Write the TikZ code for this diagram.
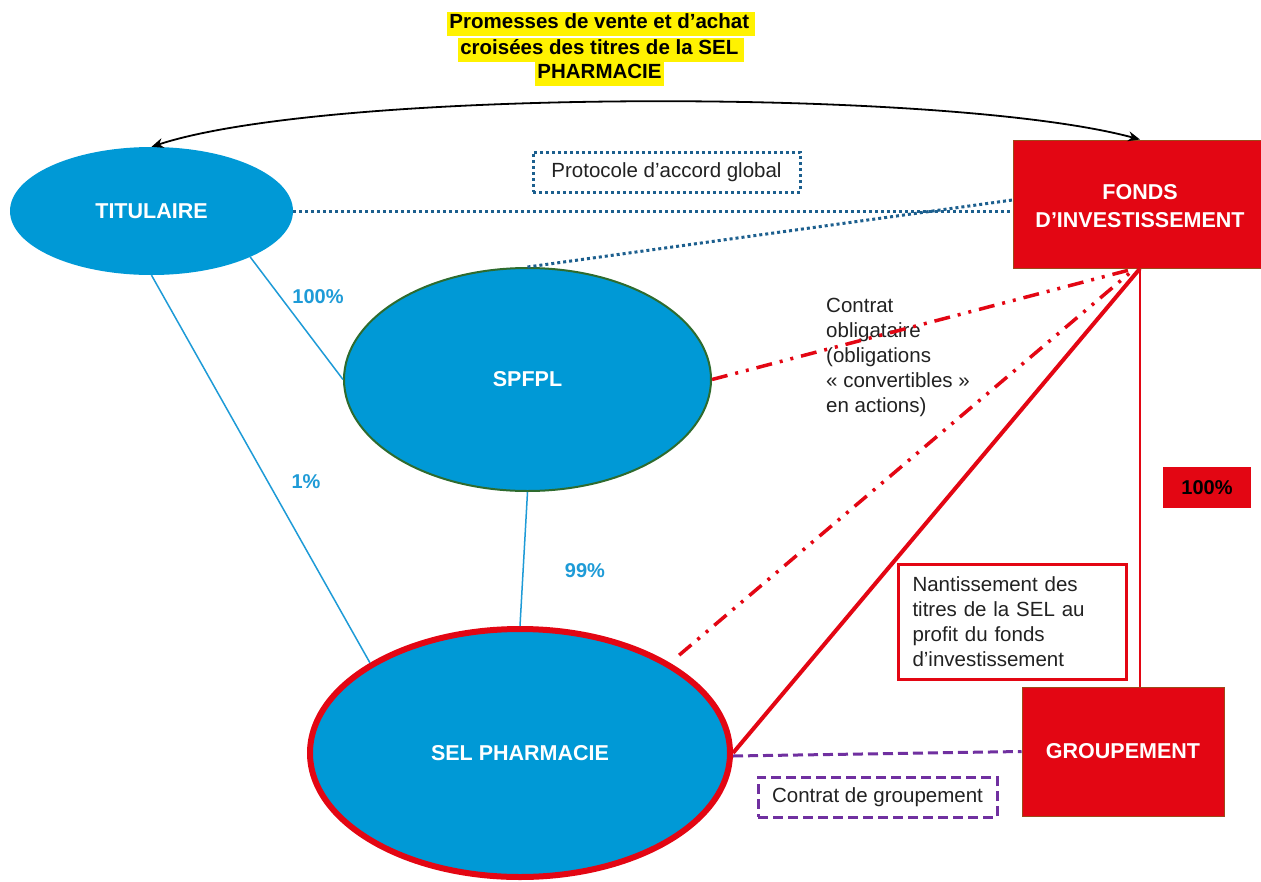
\documentclass[tikz,border=0pt]{standalone}
\usepackage{fontspec}
\setmainfont{Liberation Sans}
\usetikzlibrary{shapes.geometric,arrows.meta,calc}
\definecolor{ellblue}{HTML}{0099D6}
\definecolor{lineblue}{HTML}{1E9BD7}
\definecolor{dotblue}{HTML}{1C5F8E}
\definecolor{boxred}{HTML}{E30613}
\definecolor{brownb}{HTML}{9C4A1A}
\definecolor{greenb}{HTML}{2E6B2E}
\definecolor{purp}{HTML}{7030A0}
\definecolor{hiyel}{HTML}{FFF200}
\definecolor{txt}{HTML}{222222}
\tikzset{
  base/.style={font=\fontsize{20.5}{25}\selectfont},
  ell/.style={base, ellipse, fill=ellblue, inner sep=0pt, text=white, font=\fontsize{21.5}{27}\selectfont\bfseries},
  redbox/.style={base, rectangle, fill=boxred, draw=brownb, line width=1pt, text=white, align=center, font=\fontsize{21.5}{28}\selectfont\bfseries},
  hl/.style={base, fill=hiyel, text=black, font=\fontsize{20.5}{24}\selectfont\bfseries, inner xsep=2pt, inner ysep=0pt, text height=17pt, text depth=7pt},
  pct/.style={base, text=lineblue, font=\fontsize{20}{24}\selectfont\bfseries, inner sep=0pt},
  blueline/.style={lineblue, line width=1.5pt},
  dotline/.style={dotblue, line width=3pt, dash pattern=on 3pt off 3pt},
  dashdot/.style={boxred, line width=3.5pt, dash pattern=on 16pt off 8pt on 3pt off 8pt on 3pt off 8pt},
  purpdash/.style={purp, line width=3pt, dash pattern=on 10pt off 5pt},
  lbl/.style={base, text=txt, inner sep=0pt}
}
\begin{document}
\begin{tikzpicture}[x=1pt,y=-1pt]
\useasboundingbox (0,0) rectangle (1261,881);
\fill[white] (0,0) rectangle (1261,881);

% title
\node[hl] (t1) at (601,23.5) {Promesses de vente et d'achat\,};
\node[hl] (t2) at (601,49.5) {croisées des titres de la SEL\,};
\node[hl] (t3) at (599.5,73.5) {PHARMACIE};

% main nodes
\node[ell, minimum width=283pt, minimum height=128pt] (tit) at (151.5,211) {TITULAIRE};
\node[ell, draw=greenb, line width=2pt, minimum width=367pt, minimum height=223pt] (spfpl) at (527.5,379.5) {SPFPL};
\node[ell, draw=boxred, line width=6pt, minimum width=420pt, minimum height=248pt] (sel) at (520,753) {SEL PHARMACIE};
\node[redbox, minimum width=270pt, minimum height=128pt] (fonds) at (1148,204) {};
\node[base, text=white, align=center, font=\fontsize{21.5}{28}\selectfont\bfseries] (fondst) at (1140,206) {FONDS\\D’INVESTISSEMENT};
\node[redbox, minimum width=202pt, minimum height=129pt] (grp) at (1123,751.5) {GROUPEMENT};

% labels
\node[lbl, draw=dotblue, line width=3pt, dash pattern=on 3pt off 3pt, minimum width=267pt, minimum height=40pt] (proto) at (666.5,172) {Protocole d'accord global};
\node[lbl, anchor=north west, align=left] (contrat) at (826,298) {Contrat\\obligataire\\(obligations\\« convertibles »\\en actions)};
\node[base, fill=boxred, text=black, font=\fontsize{20}{24}\selectfont\bfseries, minimum width=88pt, minimum height=41pt, inner sep=0pt] (cent) at (1207,487.5) {100\%};
\node[lbl, draw=boxred, line width=3pt, anchor=north west, text width=200pt, align=left, inner xsep=14pt, inner ysep=10pt, minimum height=115pt] (nant) at (897,563) {Nantissement des\\titres de la SEL au\\profit du fonds\\d'investissement};
\node[lbl, draw=purp, line width=3pt, dash pattern=on 10pt off 5pt, minimum width=239pt, minimum height=40pt] (cgrp) at (877.5,797) {Contrat de groupement};
\node[pct] (p100) at (318,297) {100\%};
\node[pct] (p1) at (306,482) {1\%};
\node[pct] (p99) at (585,571) {99\%};

% connectors
\coordinate (fb) at (fondst |- fonds.south);
\draw[black, line width=1.8pt, {Stealth[length=12pt,width=10pt]}-{Stealth[length=12pt,width=10pt]}]
  (tit.north) .. controls (330,88) and (950,88) .. (fondst |- fonds.north);
\draw[dotline] (tit.east) -- ([yshift=-7pt]fonds.west);
\draw[dotline] (spfpl.north) -- ([yshift=4pt]fonds.west);
\draw[blueline] (tit.-25) -- (spfpl.west);
\draw[blueline] (tit.south) -- (sel.149);
\draw[blueline] (spfpl.south) -- (sel.north);
\draw[dashdot] (spfpl.east) -- ([xshift=-5pt]fb);
\draw[dashdot, shorten <=12pt] (sel.31) -- ([xshift=-5pt]fb);
\draw[boxred, line width=4pt] (sel.east) -- (fb);
\draw[boxred, line width=1.5pt] (fb) -- (fb |- grp.north);
\draw[purpdash] ([yshift=-3pt]sel.east) -- (grp.west);
\end{tikzpicture}
\end{document}
